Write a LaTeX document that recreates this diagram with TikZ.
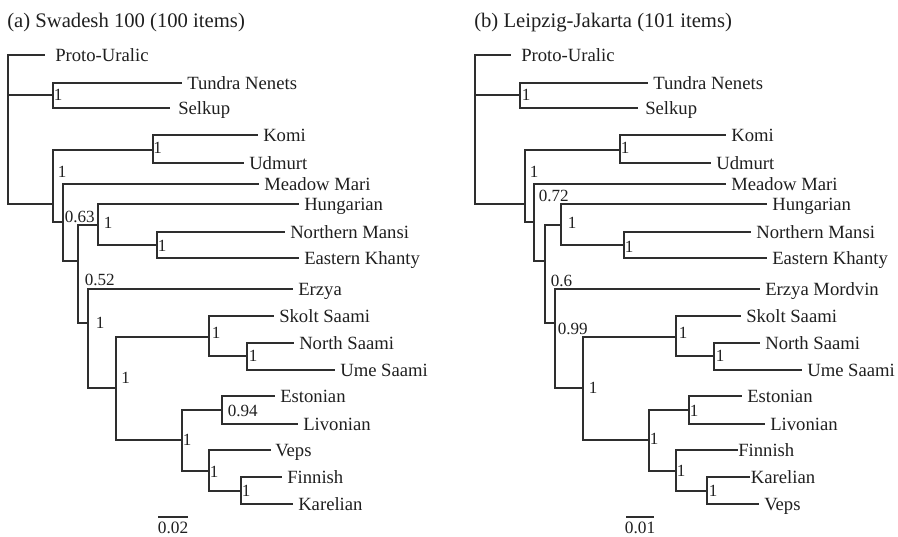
\documentclass[tikz,border=0pt]{standalone}
\usepackage{fontspec}
\setmainfont{Liberation Serif}
\begin{document}
\begin{tikzpicture}[x=0.75pt,y=-0.75pt,
  br/.style={draw=black!82, line width=1.05pt},
  leaf/.style={anchor=west, inner xsep=3.75pt, inner ysep=0pt, text height=10pt, text depth=1pt,
    font=\fontsize{14}{16}\selectfont, text=black!88},
  supp/.style={anchor=west, inner sep=0pt, text height=8.6pt, text depth=0pt,
    font=\fontsize{12.8}{14}\selectfont, text=black!88},
  ttl/.style={anchor=base west, inner sep=0pt, font=\fontsize{15.5}{18}\selectfont, text=black!88},
  scl/.style={anchor=base, inner sep=0pt, font=\fontsize{13}{15}\selectfont, text=black!88}]
\useasboundingbox (0,0) rectangle (898,536);

% ---------------- (a) Swadesh 100 ----------------
\node[ttl] (a-title) at (7,27) {(a) Swadesh 100 (100 items)};

% internal nodes
\coordinate (a-root) at (8,130);
\coordinate (a-sam)  at (53,95);
\coordinate (a-fu)   at (53,204);
\coordinate (a-perm) at (153,150);
\coordinate (a-n1)   at (63,222);
\coordinate (a-n2)   at (78,261);
\coordinate (a-ugr)  at (98,225);
\coordinate (a-ob)   at (157,245);
\coordinate (a-n3)   at (88,323);
\coordinate (a-n4)   at (116,388);
\coordinate (a-saa)  at (209,337);
\coordinate (a-nu)   at (247,356);
\coordinate (a-fin)  at (182,440);
\coordinate (a-el)   at (222,410);
\coordinate (a-vfk)  at (209,471);
\coordinate (a-fk)   at (241,491);

% leaves
\node[leaf, inner xsep=7.5pt] (a-pu) at (45,55) {Proto-Uralic};
\node[leaf] (a-tn)  at (182,83)  {Tundra Nenets};
\node[leaf, inner xsep=6pt] (a-sel) at (170,108) {Selkup};
\node[leaf] (a-kom) at (258,135) {Komi};
\node[leaf] (a-udm) at (244,163) {Udmurt};
\node[leaf] (a-mm)  at (259,184) {Meadow Mari};
\node[leaf] (a-hun) at (299,204) {Hungarian};
\node[leaf] (a-nm)  at (285,232) {Northern Mansi};
\node[leaf] (a-ek)  at (299,258) {Eastern Khanty};
\node[leaf] (a-erz) at (293,289) {Erzya};
\node[leaf] (a-sk)  at (274,316) {Skolt Saami};
\node[leaf] (a-ns)  at (294,343) {North Saami};
\node[leaf] (a-us)  at (335,370) {Ume Saami};
\node[leaf] (a-est) at (275,396) {Estonian};
\node[leaf] (a-liv) at (298,424) {Livonian};
\node[leaf, inner xsep=3pt] (a-vep) at (271,450) {Veps};
\node[leaf] (a-fi)  at (282,477) {Finnish};
\node[leaf] (a-kar) at (293,504) {Karelian};

% branches
\draw[br] (a-root) |- (a-pu.west);  \draw[br] (a-root) |- (a-sam);  \draw[br] (a-root) |- (a-fu);
\draw[br] (a-sam) |- (a-tn.west);   \draw[br] (a-sam) |- (a-sel.west);
\draw[br] (a-fu) |- (a-perm);       \draw[br] (a-fu) |- (a-n1);
\draw[br] (a-perm) |- (a-kom.west); \draw[br] (a-perm) |- (a-udm.west);
\draw[br] (a-n1) |- (a-mm.west);    \draw[br] (a-n1) |- (a-n2);
\draw[br] (a-n2) |- (a-ugr);        \draw[br] (a-n2) |- (a-n3);
\draw[br] (a-ugr) |- (a-hun.west);  \draw[br] (a-ugr) |- (a-ob);
\draw[br] (a-ob) |- (a-nm.west);    \draw[br] (a-ob) |- (a-ek.west);
\draw[br] (a-n3) |- (a-erz.west);   \draw[br] (a-n3) |- (a-n4);
\draw[br] (a-n4) |- (a-saa);        \draw[br] (a-n4) |- (a-fin);
\draw[br] (a-saa) |- (a-sk.west);   \draw[br] (a-saa) |- (a-nu);
\draw[br] (a-nu) |- (a-ns.west);    \draw[br] (a-nu) |- (a-us.west);
\draw[br] (a-fin) |- (a-el);        \draw[br] (a-fin) |- (a-vfk);
\draw[br] (a-el) |- (a-est.west);   \draw[br] (a-el) |- (a-liv.west);
\draw[br] (a-vfk) |- (a-vep.west);  \draw[br] (a-vfk) |- (a-fk);
\draw[br] (a-fk) |- (a-fi.west);    \draw[br] (a-fk) |- (a-kar.west);

% support values
\node[supp] (a-s-sam)  at (53.5,95)  {1};
\node[supp] (a-s-perm) at (153,148)  {1};
\node[supp] (a-s-fu)   at (57.5,172) {1};
\node[supp] (a-s-n1)   at (64.5,217) {0.63};
\node[supp] (a-s-ugr)  at (103.5,223) {1};
\node[supp] (a-s-ob)   at (157.5,246) {1};
\node[supp] (a-s-n3a)  at (84.5,280) {0.52};
\node[supp] (a-s-n3)   at (95.5,323) {1};
\node[supp] (a-s-saa)  at (211.5,333) {1};
\node[supp] (a-s-nu)   at (248.5,356) {1};
\node[supp] (a-s-n4)   at (121,378) {1};
\node[supp] (a-s-el)   at (227.5,411) {0.94};
\node[supp] (a-s-fin)  at (182.5,440) {1};
\node[supp] (a-s-vfk)  at (209.5,472) {1};
\node[supp] (a-s-fk)   at (241.5,491) {1};

% scale bar
\coordinate (a-sb1) at (158,517);
\coordinate (a-sb2) at (188,517);
\draw[br, line width=0.9pt] (a-sb1) -- (a-sb2);
\node[scl] (a-sbl) at (173,533) {0.02};

% ---------------- (b) Leipzig-Jakarta ----------------
\node[ttl] (b-title) at (474,27) {(b) Leipzig-Jakarta (101 items)};

\coordinate (b-root) at (475,130);
\coordinate (b-sam)  at (520,95);
\coordinate (b-fu)   at (525,204);
\coordinate (b-perm) at (620,150);
\coordinate (b-n1)   at (534,222);
\coordinate (b-n2)   at (545,261);
\coordinate (b-ugr)  at (561,225);
\coordinate (b-ob)   at (624,245);
\coordinate (b-n3)   at (555,323);
\coordinate (b-n4)   at (583,388);
\coordinate (b-saa)  at (676,337);
\coordinate (b-nu)   at (714,356);
\coordinate (b-fin)  at (649,440);
\coordinate (b-el)   at (689,410);
\coordinate (b-fkv)  at (676,471);
\coordinate (b-kv)   at (707,491);

\node[leaf, inner xsep=7.5pt] (b-pu) at (511,55) {Proto-Uralic};
\node[leaf] (b-tn)  at (648,83)  {Tundra Nenets};
\node[leaf, inner xsep=5.25pt] (b-sel) at (638,108) {Selkup};
\node[leaf] (b-kom) at (726,135) {Komi};
\node[leaf] (b-udm) at (711,163) {Udmurt};
\node[leaf] (b-mm)  at (726,184) {Meadow Mari};
\node[leaf] (b-hun) at (767,204) {Hungarian};
\node[leaf] (b-nm)  at (751,232) {Northern Mansi};
\node[leaf] (b-ek)  at (767,258) {Eastern Khanty};
\node[leaf] (b-erz) at (760,289) {Erzya Mordvin};
\node[leaf] (b-sk)  at (741,316) {Skolt Saami};
\node[leaf] (b-ns)  at (760,343) {North Saami};
\node[leaf] (b-us)  at (802,370) {Ume Saami};
\node[leaf] (b-est) at (742,396) {Estonian};
\node[leaf] (b-liv) at (765,424) {Livonian};
\node[leaf, inner xsep=0pt] (b-fi)  at (738,450) {Finnish};
\node[leaf, inner xsep=0.5pt] (b-kar) at (750,477) {Karelian};
\node[leaf] (b-vep) at (759,504) {Veps};

\draw[br] (b-root) |- (b-pu.west);  \draw[br] (b-root) |- (b-sam);  \draw[br] (b-root) |- (b-fu);
\draw[br] (b-sam) |- (b-tn.west);   \draw[br] (b-sam) |- (b-sel.west);
\draw[br] (b-fu) |- (b-perm);       \draw[br] (b-fu) |- (b-n1);
\draw[br] (b-perm) |- (b-kom.west); \draw[br] (b-perm) |- (b-udm.west);
\draw[br] (b-n1) |- (b-mm.west);    \draw[br] (b-n1) |- (b-n2);
\draw[br] (b-n2) |- (b-ugr);        \draw[br] (b-n2) |- (b-n3);
\draw[br] (b-ugr) |- (b-hun.west);  \draw[br] (b-ugr) |- (b-ob);
\draw[br] (b-ob) |- (b-nm.west);    \draw[br] (b-ob) |- (b-ek.west);
\draw[br] (b-n3) |- (b-erz.west);   \draw[br] (b-n3) |- (b-n4);
\draw[br] (b-n4) |- (b-saa);        \draw[br] (b-n4) |- (b-fin);
\draw[br] (b-saa) |- (b-sk.west);   \draw[br] (b-saa) |- (b-nu);
\draw[br] (b-nu) |- (b-ns.west);    \draw[br] (b-nu) |- (b-us.west);
\draw[br] (b-fin) |- (b-el);        \draw[br] (b-fin) |- (b-fkv);
\draw[br] (b-el) |- (b-est.west);   \draw[br] (b-el) |- (b-liv.west);
\draw[br] (b-fkv) |- (b-fi.west);   \draw[br] (b-fkv) |- (b-kv);
\draw[br] (b-kv) |- (b-kar.west);   \draw[br] (b-kv) |- (b-vep.west);

\node[supp] (b-s-sam)  at (521.5,95)  {1};
\node[supp] (b-s-perm) at (620.5,148) {1};
\node[supp] (b-s-fu)   at (529.5,172) {1};
\node[supp] (b-s-n1)   at (538.5,196) {0.72};
\node[supp] (b-s-ugr)  at (567.5,223) {1};
\node[supp] (b-s-ob)   at (624.5,247) {1};
\node[supp] (b-s-n3a)  at (550.5,281) {0.6};
\node[supp] (b-s-n3)   at (557.5,329) {0.99};
\node[supp] (b-s-saa)  at (678.5,333) {1};
\node[supp] (b-s-nu)   at (715.5,356) {1};
\node[supp] (b-s-n4)   at (588.5,388) {1};
\node[supp] (b-s-el)   at (689.5,411) {1};
\node[supp] (b-s-fin)  at (649.5,439) {1};
\node[supp] (b-s-fkv)  at (676.5,471) {1};
\node[supp] (b-s-kv)   at (708.5,491) {1};

\coordinate (b-sb1) at (626,517);
\coordinate (b-sb2) at (654,517);
\draw[br, line width=0.9pt] (b-sb1) -- (b-sb2);
\node[scl] (b-sbl) at (640,533) {0.01};
\end{tikzpicture}
\end{document}
